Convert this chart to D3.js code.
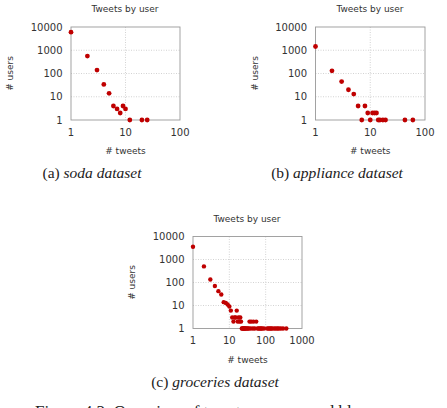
<!DOCTYPE html>
<html>
<head>
<meta charset="utf-8">
<script src="https://cdn.jsdelivr.net/npm/d3@7"></script>
<style>
  body { margin: 0; background: #fff; }
  .tick-lbl, .ttl, .axlbl { font-family: "DejaVu Sans", sans-serif; fill: #333; }
  .cap { font-family: "Liberation Serif", serif; fill: #222; }
</style>
</head>
<body>
<div id="chart"></div>
<script>
// [# tweets, # users]
const sodaPoints = [[1, 6000], [2, 560], [3, 140], [4, 34], [5, 14], [6, 4], [7, 3], [8, 2],
  [9, 4], [10, 3], [12, 1], [20, 1], [25, 1]];
const appliancePoints = [[1, 1450], [2, 130], [3, 45], [4, 20], [5, 13], [6, 4], [7, 1], [8, 4],
  [9, 2], [10, 1], [11, 2], [12, 2], [13, 2], [14, 1], [15, 1], [17, 1], [19, 1], [43, 1], [60, 1]];
const groceriesPoints = [[1, 3600], [2, 500], [3, 135], [4, 70], [5, 42], [6, 30], [7, 14],
  [8, 13], [9, 11], [10, 9], [11, 6], [12, 3], [13, 2], [14, 3], [15, 3], [16, 6], [17, 2],
  [18, 3], [19, 2], [20, 3], [21, 2], [22, 1], [23, 1], [24, 1], [25, 1], [26, 1], [27, 1],
  [28, 1], [30, 1], [32, 1], [34, 1], [36, 2], [38, 1], [40, 2], [44, 1], [46, 2], [50, 1],
  [55, 2], [60, 1], [65, 1], [70, 1], [75, 1], [80, 1], [90, 1], [110, 1], [120, 1],
  [130, 1], [140, 1], [150, 1], [170, 1], [190, 1], [210, 1], [230, 1], [260, 1], [300, 1], [370, 1]];

const yTicks = [1, 10, 100, 1000, 10000];
const xTicksShort = [1, 10, 100];
const xTicksLong = [1, 10, 100, 1000];

const chartTitle = "Tweets by user";
const xTitle = "# tweets";
const yTitle = "# users";
const captions = [["(a) ", "soda dataset"], ["(b) ", "appliance dataset"], ["(c) ", "groceries dataset"]];

const W = 447, H = 408;
const dotColor = "#bf0000";

const svg = d3.select("#chart").append("svg")
    .attr("width", W)
    .attr("height", H);

svg.append("rect").attr("width", W).attr("height", H).attr("fill", "#fff");

function drawPanel(cfg) {
    let g = svg.append("g");

    let x = d3.scaleLog()
        .domain([1, cfg.xTicks[cfg.xTicks.length - 1]])
        .range([cfg.left, cfg.right]);

    let y = d3.scaleLog()
        .domain([1, 10000])
        .range([cfg.bottom, cfg.top]);

    // grid
    g.selectAll(".gx").data(cfg.xTicks.slice(1, -1)).enter()
        .append("line")
        .attr("x1", d => x(d)).attr("x2", d => x(d))
        .attr("y1", cfg.top).attr("y2", cfg.bottom)
        .attr("stroke", "#c8c8c8").attr("stroke-dasharray", "1,1.5").attr("stroke-width", 0.8);

    g.selectAll(".gy").data(yTicks.slice(1, -1)).enter()
        .append("line")
        .attr("x1", cfg.left).attr("x2", cfg.right)
        .attr("y1", d => y(d)).attr("y2", d => y(d))
        .attr("stroke", "#c8c8c8").attr("stroke-dasharray", "1,1.5").attr("stroke-width", 0.8);

    // frame
    g.append("rect")
        .attr("x", cfg.left).attr("y", cfg.top)
        .attr("width", cfg.right - cfg.left).attr("height", cfg.bottom - cfg.top)
        .attr("fill", "none").attr("stroke", "#999").attr("stroke-width", 0.9);

    // axes labels
    g.selectAll(".xl").data(cfg.xTicks).enter()
        .append("text").attr("class", "tick-lbl")
        .attr("x", d => x(d)).attr("y", cfg.bottom + 15.5)
        .attr("text-anchor", "middle").style("font-size", "10px")
        .text(d => d);

    g.selectAll(".yl").data(yTicks).enter()
        .append("text").attr("class", "tick-lbl")
        .attr("x", cfg.left - 8.5).attr("y", d => y(d) + 3.6)
        .attr("text-anchor", "end").style("font-size", "10px")
        .text(d => d);

    g.append("text").attr("class", "ttl")
        .attr("x", cfg.titleX).attr("y", cfg.top - 15)
        .attr("text-anchor", "middle").style("font-size", "9px")
        .text(chartTitle);

    g.append("text").attr("class", "axlbl")
        .attr("x", (cfg.left + cfg.right) / 2).attr("y", cfg.bottom + 34)
        .attr("text-anchor", "middle").style("font-size", "9px")
        .text(xTitle);

    g.append("text").attr("class", "axlbl")
        .attr("transform", "translate(" + (cfg.yLabelX + 3) + "," + ((cfg.top + cfg.bottom) / 2) + ") rotate(-90)")
        .attr("text-anchor", "middle").style("font-size", "9px")
        .text(yTitle);

    g.selectAll(".dot").data(cfg.data).enter()
        .append("circle")
        .attr("cx", d => x(d[0]))
        .attr("cy", d => y(d[1]))
        .attr("r", cfg.r)
        .attr("fill", dotColor);

    let cap = g.append("text").attr("class", "cap")
        .attr("x", cfg.capX).attr("y", cfg.capY)
        .attr("text-anchor", "middle").style("font-size", "15.5px");
    cap.append("tspan").text(cfg.caption[0]);
    cap.append("tspan").style("font-style", "italic").text(cfg.caption[1]);
}

drawPanel({left: 71, right: 180, top: 27, bottom: 120, xTicks: xTicksShort, data: sodaPoints,
    titleX: 125, yLabelX: 10, r: 2.4, caption: captions[0], capX: 92, capY: 178});
drawPanel({left: 315.5, right: 425, top: 27, bottom: 120, xTicks: xTicksShort, data: appliancePoints,
    titleX: 370, yLabelX: 255, r: 2.4, caption: captions[1], capX: 337, capY: 178});
drawPanel({left: 193, right: 302, top: 236.5, bottom: 328.5, xTicks: xTicksLong, data: groceriesPoints,
    titleX: 247, yLabelX: 132, r: 2.2, caption: captions[2], capX: 215, capY: 387});

// figure caption, cut off by the bottom edge as in the page scan
svg.append("text").attr("class", "cap")
    .attr("x", 35).attr("y", 417)
    .style("font-size", "17px")
    .text("Figure 4.3: Overview of tweets per user and bl");
</script>
</body>
</html>
